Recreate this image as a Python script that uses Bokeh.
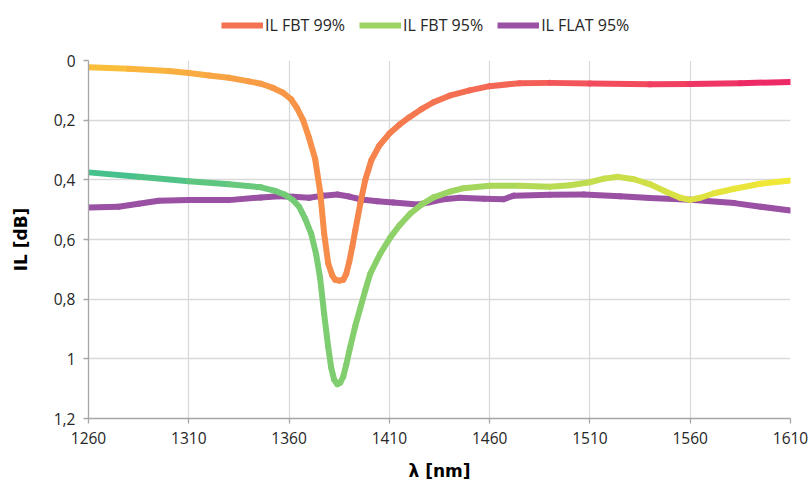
from bokeh.plotting import figure
from bokeh.layouts import column
from bokeh.models import (Range1d, FixedTicker, CustomJSTickFormatter, Legend, LegendItem,
                          ColumnDataSource)
from bokeh.embed import file_html
from bokeh.resources import INLINE

# ---------------- data ----------------
fbt99_x = [1260, 1280, 1300, 1310, 1320, 1330, 1340, 1346, 1352, 1357, 1361, 1364, 1367, 1370,
           1373, 1375.5, 1377.5, 1379.5, 1381.5, 1383, 1385, 1387, 1388.5, 1390, 1391.5, 1393,
           1395.5, 1398, 1401, 1405, 1410, 1415, 1420, 1426, 1432, 1440, 1450, 1460, 1475,
           1490, 1510, 1540, 1560, 1585, 1610]
fbt99_y = [0.023, 0.028, 0.035, 0.042, 0.05, 0.058, 0.07, 0.078, 0.092, 0.108, 0.13, 0.16, 0.2,
           0.26, 0.33, 0.44, 0.58, 0.68, 0.72, 0.735, 0.738, 0.735, 0.715, 0.675, 0.625, 0.57,
           0.48, 0.40, 0.335, 0.285, 0.245, 0.215, 0.19, 0.163, 0.14, 0.118, 0.1, 0.086,
           0.076, 0.075, 0.077, 0.08, 0.079, 0.076, 0.072]

fbt95_x = [1260, 1285, 1310, 1330, 1346, 1353, 1358, 1362, 1365, 1368, 1371, 1373.5, 1375.5,
           1377.5, 1379.5, 1381, 1382.5, 1384, 1385.5, 1387, 1388.5, 1390.5, 1393, 1395.5, 1398,
           1400.5, 1405.5, 1410.5, 1415, 1420.5, 1426, 1432, 1440, 1447, 1460, 1475, 1490, 1500,
           1510, 1517, 1524, 1532, 1540, 1548, 1555, 1560, 1565, 1572, 1582, 1595, 1610]
fbt95_y = [0.375, 0.39, 0.405, 0.415, 0.425, 0.437, 0.45, 0.468, 0.49, 0.53, 0.58, 0.65, 0.73,
           0.85, 0.96, 1.03, 1.07, 1.085, 1.08, 1.06, 1.02, 0.96, 0.89, 0.83, 0.77, 0.714,
           0.647, 0.593, 0.553, 0.513, 0.483, 0.459, 0.44, 0.428, 0.42, 0.42, 0.423, 0.418,
           0.408, 0.396, 0.39, 0.398, 0.415, 0.44, 0.46, 0.467, 0.46, 0.445, 0.43, 0.413, 0.402]

flat95_x = [1260, 1275, 1285, 1295, 1310, 1330, 1346, 1355, 1362, 1370, 1377, 1384, 1390, 1396,
            1404, 1412, 1424, 1430, 1436, 1445, 1457, 1467, 1472, 1490, 1507, 1525, 1540, 1560,
            1582, 1595, 1610]
flat95_y = [0.493, 0.49, 0.48, 0.47, 0.468, 0.468, 0.459, 0.455, 0.457, 0.46, 0.453, 0.449,
            0.456, 0.466, 0.472, 0.476, 0.483, 0.475, 0.466, 0.46, 0.463, 0.465, 0.453, 0.45,
            0.449, 0.455, 0.461, 0.467, 0.478, 0.49, 0.503]

series_names = ["IL FBT 99%", "IL FBT 95%", "IL FLAT 95%"]
x_ticks = [1260, 1310, 1360, 1410, 1460, 1510, 1560, 1610]
y_ticks = [0, 0.2, 0.4, 0.6, 0.8, 1.0, 1.2]

# ---------------- style helpers ----------------
def hex2rgb(h):
    h = h.lstrip("#")
    return tuple(int(h[i:i + 2], 16) for i in (0, 2, 4))

def grad(c0, c1, t):
    a, b = hex2rgb(c0), hex2rgb(c1)
    return "#%02x%02x%02x" % tuple(int(round(a[i] + (b[i] - a[i]) * t)) for i in range(3))

def seg_source(xs, ys, c0, c1):
    x0, x1 = xs[0], xs[-1]
    cols = [grad(c0, c1, ((xs[i] + xs[i + 1]) / 2 - x0) / (x1 - x0)) for i in range(len(xs) - 1)]
    return ColumnDataSource(dict(x0=xs[:-1], y0=ys[:-1], x1=xs[1:], y1=ys[1:], c=cols))

def mid_index(xs):
    m = (xs[0] + xs[-1]) / 2
    return min(range(len(xs) - 1), key=lambda i: abs((xs[i] + xs[i + 1]) / 2 - m))

FONT = "Open Sans"
LW = 6
W, H = 809, 483
LH = 44                      # height of legend strip
BL, BR, BT, BB = 88, 19, 16, 65

src99 = seg_source(fbt99_x, fbt99_y, "#fbc33a", "#ee2468")
src95 = seg_source(fbt95_x, fbt95_y, "#3fbf90", "#f5e834")
srcfl = seg_source(flat95_x, flat95_y, "#9a50a3", "#9a50a3")

p = figure(width=W, height=H - LH, output_backend="svg", toolbar_location=None,
           x_range=Range1d(1260, 1610), y_range=Range1d(1.2, 0),
           min_border_left=BL, min_border_right=BR, min_border_top=BT, min_border_bottom=BB)
p.outline_line_color = None
p.background_fill_color = "white"

p.xaxis.ticker = FixedTicker(ticks=x_ticks)
p.yaxis.ticker = FixedTicker(ticks=y_ticks)
p.yaxis.formatter = CustomJSTickFormatter(
    code="return (Math.round(tick*10)/10).toString().replace('.', ',');")

for ax in (p.xaxis, p.yaxis):
    ax.axis_line_color = "#a6a6a6"
    ax.axis_line_width = 1.3
    ax.major_tick_line_color = "#a6a6a6"
    ax.major_tick_line_width = 1.3
    ax.major_tick_out = 5
    ax.major_tick_in = 0
    ax.minor_tick_line_color = None
    ax.major_label_text_font = FONT
    ax.major_label_text_font_size = "15.5px"
    ax.major_label_text_color = "#262626"
    ax.axis_label_text_font = "DejaVu Sans"
    ax.axis_label_text_font_style = "bold"
    ax.axis_label_text_font_size = "17px"
    ax.axis_label_text_color = "#000000"

p.xaxis.axis_label = "λ [nm]"
p.yaxis.axis_label = "IL [dB]"
p.xaxis.major_label_standoff = 8
p.yaxis.major_label_standoff = 8
p.xaxis.axis_label_standoff = 14
p.yaxis.axis_label_standoff = 20

p.xgrid.grid_line_color = "#d9d9d9"
p.ygrid.grid_line_color = "#d9d9d9"
p.xgrid.grid_line_width = 1.3
p.ygrid.grid_line_width = 1.3

# lines (gradient drawn as short segments)
p.segment("x0", "y0", "x1", "y1", source=srcfl, line_color="c", line_width=LW, line_cap="round")
p.segment("x0", "y0", "x1", "y1", source=src95, line_color="c", line_width=LW, line_cap="round")
p.segment("x0", "y0", "x1", "y1", source=src99, line_color="c", line_width=LW, line_cap="round")

# ---------------- legend strip ----------------
lf = figure(width=W, height=LH, output_backend="svg", toolbar_location=None,
            x_range=Range1d(0, 1), y_range=Range1d(0, 1),
            min_border_left=0, min_border_right=0, min_border_top=0, min_border_bottom=0)
lf.axis.visible = False
lf.grid.visible = False
lf.outline_line_color = None
g99 = lf.segment("x0", "y0", "x1", "y1", source=src99, line_color="c", line_width=LW, visible=False)
g95 = lf.segment("x0", "y0", "x1", "y1", source=src95, line_color="c", line_width=LW, visible=False)
gfl = lf.segment("x0", "y0", "x1", "y1", source=srcfl, line_color="c", line_width=LW, visible=False)

legend = Legend(items=[LegendItem(label=series_names[0], renderers=[g99], index=mid_index(fbt99_x)),
                       LegendItem(label=series_names[1], renderers=[g95], index=mid_index(fbt95_x)),
                       LegendItem(label=series_names[2], renderers=[gfl], index=0)],
                orientation="horizontal", location=(133, 8),
                label_text_font=FONT, label_text_font_size="16px", label_text_color="#262626",
                glyph_width=42, glyph_height=16, label_standoff=2, spacing=14,
                border_line_color=None, background_fill_alpha=0, padding=0, margin=0)
lf.add_layout(legend, "center")

open("out.html", "w").write(file_html(column(lf, p, spacing=0), INLINE))
